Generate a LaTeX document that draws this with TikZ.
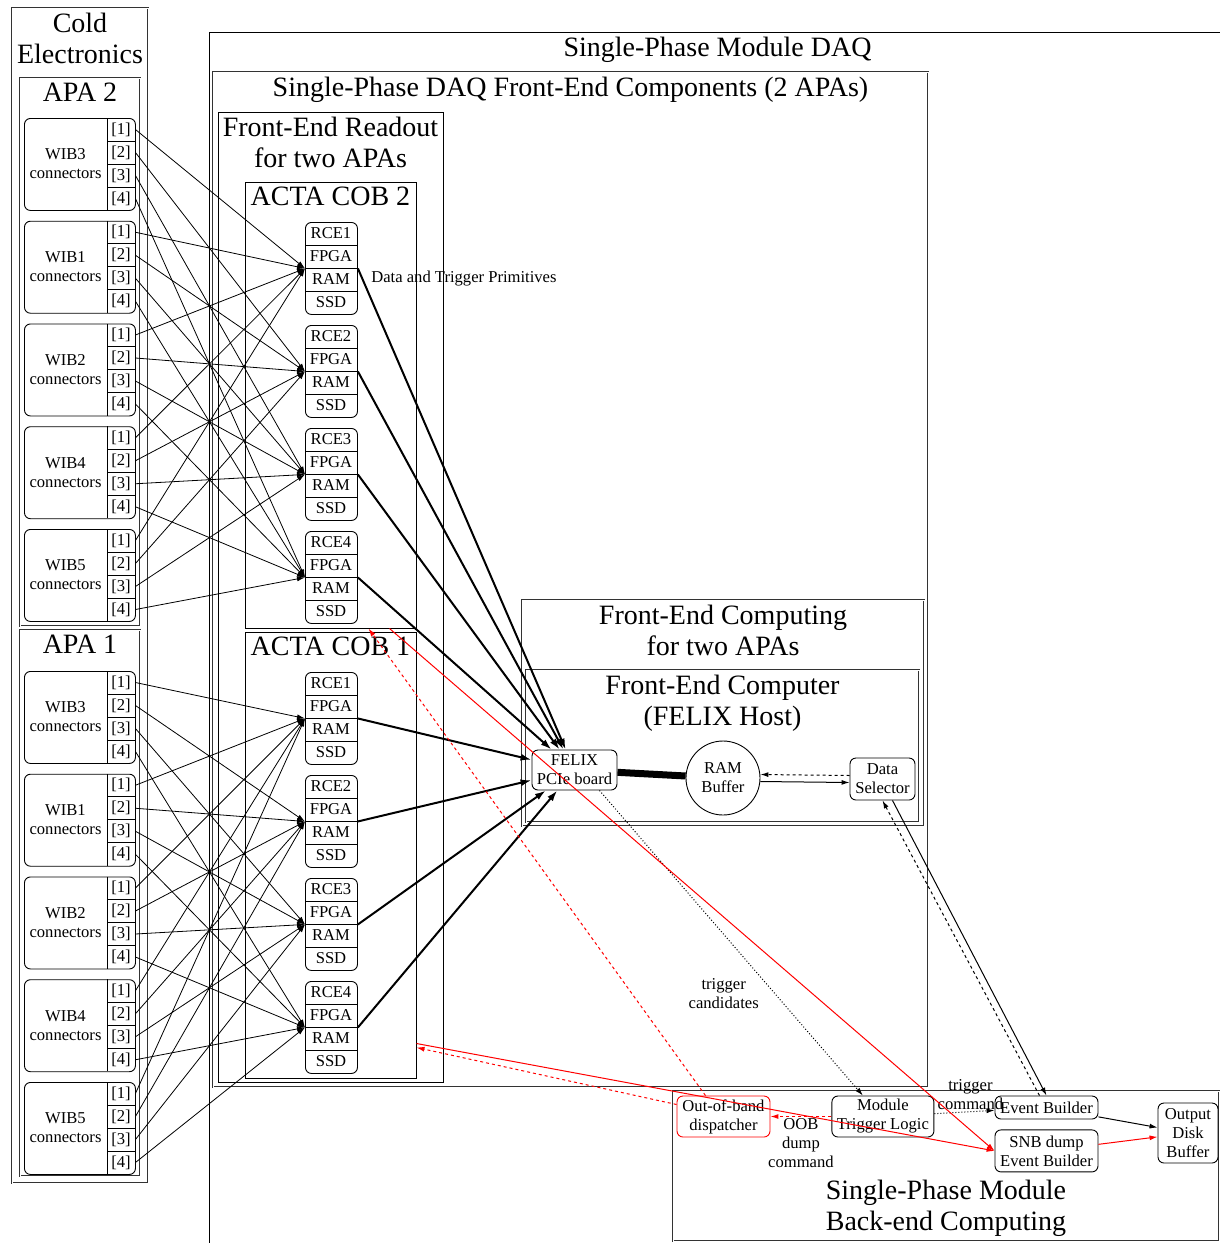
\documentclass[tikz,border=0pt]{standalone}
\usepackage{fontspec}
\setmainfont{Liberation Serif}
\usetikzlibrary{arrows.meta, positioning, fit}
\newcommand{\nodefont}{\fontsize{16.6}{19}\selectfont}
\newcommand{\clusterfont}{\fontsize{28}{31}\selectfont}

\begin{document}
\begin{tikzpicture}[
  x=1pt, y=-1pt, line width=0.9pt,
  cluster/.style={draw, line width=1pt, inner sep=0pt},
  dcluster/.style={draw=black!80, double, double distance=0.9pt, line width=0.6pt, inner sep=0pt},
  ctitle/.style={font=\clusterfont, align=center, inner sep=0pt},
  smalltxt/.style={font=\nodefont, align=center, inner sep=0pt},
  lbl/.style={font=\nodefont, align=center, inner sep=1pt},
  wibbox/.style={draw, rounded corners=6pt, minimum width=111pt, minimum height=92pt, inner sep=0pt},
  rcebox/.style={draw, rounded corners=6pt, minimum width=52pt, minimum height=92pt, inner sep=0pt},
  cellbox/.style={font=\nodefont, minimum width=28pt, minimum height=23pt, inner sep=0pt},
  proc/.style={draw, rounded corners=6pt, font=\nodefont, align=center, inner sep=2pt},
  wire/.style={-{Latex[length=8pt,width=5pt]}, line width=0.8pt},
  feed/.style={-{Latex[length=11pt,width=7pt]}, line width=2pt},
  flow/.style={-{Latex[length=8pt,width=5pt]}, line width=1pt},
  redflow/.style={flow, red}
]
\useasboundingbox (0,0) rectangle (1220,1243);

% --- clusters ---
\node[cluster, fit={(209,32)(1226,1270)}] (spdaq) {};
\node[ctitle, anchor=north] (spdaq-title) at ([yshift=-5pt]spdaq.north) {Single-Phase Module DAQ};
\node[dcluster, fit={(213,72)(928,1087)}] (fecomp) {};
\node[ctitle, anchor=north] (fecomp-title) at ([yshift=-5pt]fecomp.north) {Single-Phase DAQ Front-End Components (2 APAs)};
\node[cluster, fit={(218,112)(443,1082)}] (ferd) {};
\node[ctitle, anchor=north] (ferd-title) at ([yshift=-5pt]ferd.north) {Front-End Readout\\for two APAs};
\node[cluster, fit={(245,182)(416,628)}] (cob2) {};
\node[ctitle, anchor=north] (cob2-title) at ([yshift=-5pt]cob2.north) {ACTA COB 2};
\node[cluster, fit={(245,632)(416,1078)}] (cob1) {};
\node[ctitle, anchor=north] (cob1-title) at ([yshift=-5pt]cob1.north) {ACTA COB 1};
\node[dcluster, fit={(522,600)(924,826)}] (fecpt) {};
\node[ctitle, anchor=north] (fecpt-title) at ([yshift=-5pt]fecpt.north) {Front-End Computing\\for two APAs};
\node[dcluster, fit={(526,670)(919,822)}] (host) {};
\node[ctitle, anchor=north] (host-title) at ([yshift=-5pt]host.north) {Front-End Computer\\(FELIX Host)};
\node[dcluster, fit={(12,8)(148,1183)}] (cold) {};
\node[ctitle, anchor=north] (cold-title) at ([yshift=-5pt]cold.north) {Cold\\Electronics};
\node[dcluster, fit={(20,78)(140,626)}] (apa2) {};
\node[ctitle, anchor=north] (apa2-title) at ([yshift=-5pt]apa2.north) {APA 2};
\node[dcluster, fit={(20,630)(140,1176)}] (apa1) {};
\node[ctitle, anchor=north] (apa1-title) at ([yshift=-5pt]apa1.north) {APA 1};
\node[dcluster, fit={(673,1091)(1219,1241)}] (backend) {};
\node[ctitle, anchor=south] (backend-title) at ([yshift=4pt]backend.south) {Single-Phase Module\\Back-end Computing};

% --- WIB connectors ---
\foreach \apa/\ybase in {2/118,1/671}{
  \foreach \wib [count=\k from 0] in {3,1,2,4,5}{
    \pgfmathsetmacro{\yt}{\ybase+102.75*\k}
    \node[wibbox, anchor=north west] (apa\apa-wib\wib) at (24,\yt) {};
    \node[smalltxt] (apa\apa-wib\wib-name) at (65.5,\yt+46) {WIB\wib\\connectors};
    \draw (107,\yt) -- (107,\yt+92);
    \foreach \c in {1,2,3}{\draw (107,\yt+23*\c) -- (135,\yt+23*\c);}
    \foreach \c in {1,2,3,4}{
      \node[cellbox] (apa\apa-wib\wib-c\c) at (121,\yt+23*\c-11.5) {[\c]};
    }
  }
}

% --- RCEs ---
\foreach \cob/\ybase in {2/222,1/672}{
  \foreach \r in {1,2,3,4}{
    \pgfmathsetmacro{\yt}{\ybase+103*(\r-1)}
    \node[rcebox, anchor=north west] (cob\cob-rce\r) at (305,\yt) {};
    \foreach \c in {1,2,3}{\draw (305,\yt+23*\c) -- (357,\yt+23*\c);}
    \node[smalltxt] (cob\cob-rce\r-id) at (331,\yt+11.5) {RCE\r};
    \node[smalltxt] (cob\cob-rce\r-fpga) at (331,\yt+34.5) {FPGA};
    \node[smalltxt] (cob\cob-rce\r-ram) at (331,\yt+57.5) {RAM};
    \node[smalltxt] (cob\cob-rce\r-ssd) at (331,\yt+80.5) {SSD};
  }
}

% --- front-end computer ---
\node[proc, minimum width=85pt, minimum height=40pt] (felix) at (574.5,770) {FELIX\\PCIe board};
\node[draw, circle, minimum size=74pt, font=\nodefont, align=center, inner sep=0pt] (rambuf) at (723,778) {RAM\\Buffer};
\node[proc, minimum width=65pt, minimum height=42pt] (datasel) at (882.5,779) {Data\\Selector};

% --- back-end ---
\node[proc, draw=red, minimum width=93pt, minimum height=41pt] (oob) at (723.5,1116.5) {Out-of-band\\dispatcher};
\node[proc, minimum width=102pt, minimum height=41pt, right=61pt of oob] (mtl) {Module\\Trigger Logic};
\node[proc, minimum width=103pt, minimum height=23pt] (evb) at (1046.5,1107.5) {Event Builder};
\node[proc, minimum width=103pt, minimum height=42pt, below=10pt of evb] (snb) {SNB dump\\Event Builder};
\node[proc, minimum width=60pt, minimum height=60pt] (odb) at (1188,1133) {Output\\Disk\\Buffer};

% --- cabling ---
\foreach \apa in {1,2}{
  \foreach \wib in {3,1,2,4,5}{
    \foreach \c in {1,2,3,4}{
      \draw[wire] (apa\apa-wib\wib-c\c.east) -- (cob\apa-rce\c.west);
    }
  }
}
\foreach \cob in {1,2}{
  \foreach \r in {1,2,3,4}{
    \draw[feed] (cob\cob-rce\r.east) -- (felix);
  }
}
\node[lbl, anchor=west] (dtp) at ([xshift=12pt, yshift=-10pt]cob2-rce1.east) {Data and Trigger Primitives};

% --- data flow ---
\draw[line width=7pt] (felix) -- (rambuf);
\draw[flow] ([yshift=-3.5pt]rambuf.east) -- ([yshift=-3.5pt]datasel.west);
\draw[flow, dashed] ([yshift=3.5pt]datasel.west) -- ([yshift=3.5pt]rambuf.east);
\draw[flow, dotted] ([xshift=25pt]felix.south) -- node[lbl, pos=0.667, left=15pt] {trigger\\candidates} ([xshift=-20pt]mtl.north);
\draw[flow, dotted] (mtl) -- node[lbl, midway, yshift=17pt, xshift=6pt] {trigger\\command} (evb);
\draw[redflow, dashed] (mtl) -- node[lbl, black, midway, anchor=north] {OOB\\dump\\command} (oob);
\draw[redflow, dashed] ([xshift=-18pt]oob.north) -- ([xshift=38pt]cob2.south);
\draw[redflow, dashed] ([yshift=12pt]oob.west) -- ([yshift=31pt]cob1.south east);
\draw[redflow] ([xshift=59pt]cob2.south) -- (snb.west);
\draw[redflow] ([yshift=35pt]cob1.south east) -- (snb.west);
\draw[flow] ([xshift=10pt]datasel.south) -- (evb.north);
\draw[flow, dashed] ([xshift=-7pt]evb.north) -- (datasel.south);
\draw[flow] (evb) -- (odb);
\draw[redflow] (snb) -- (odb);

\end{tikzpicture}
\end{document}
